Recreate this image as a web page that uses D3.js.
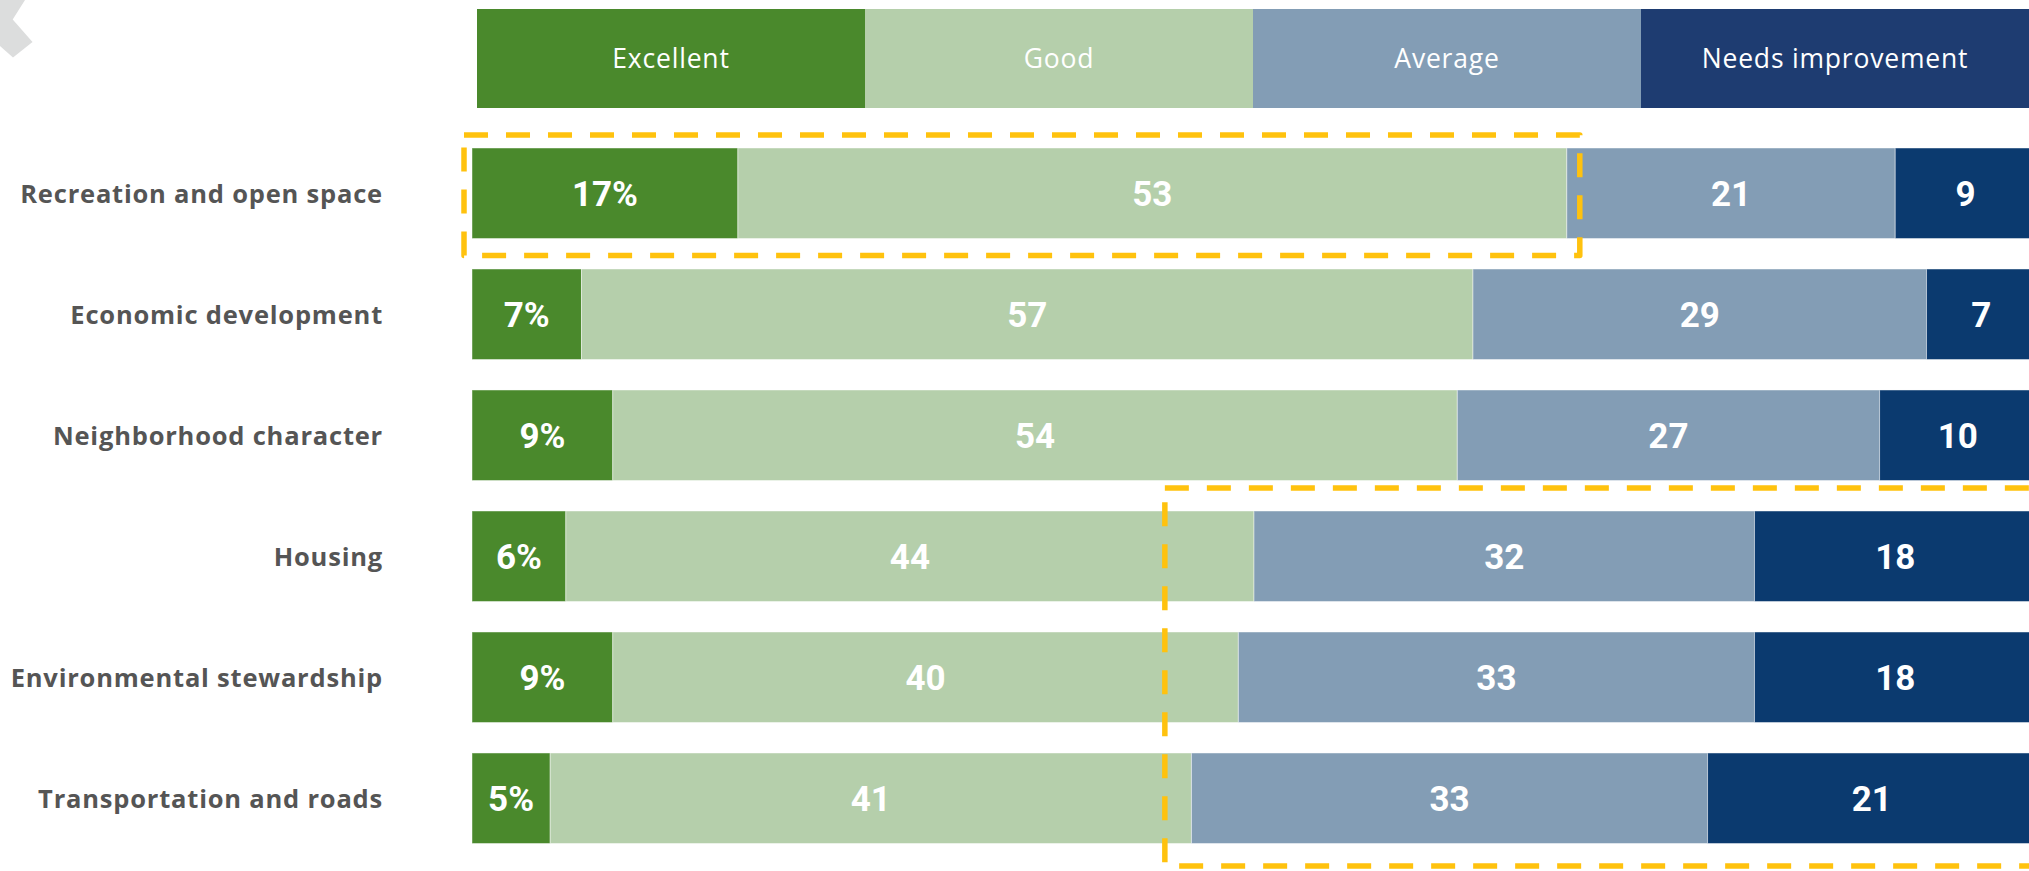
<!DOCTYPE html>
<html><head><meta charset="utf-8">
<script src="https://cdn.jsdelivr.net/npm/d3@7"></script>
<style>html,body{margin:0;padding:0;background:#fff;overflow:hidden}</style>
</head><body><svg id="chart" width="2029" height="871"></svg>
<script>
// ---- data ----
const categories = ["Recreation and open space","Economic development","Neighborhood character","Housing","Environmental stewardship","Transportation and roads"];
const seriesNames = ["Excellent","Good","Average","Needs improvement"];
const excellent = [17,7,9,6,9,5];
const good = [53,57,54,44,40,41];
const average = [21,29,27,32,33,33];
const needsImprovement = [9,7,10,18,18,21];
// highlighted regions (row range, value range on the 0-100 scale)
const highlights = [
  {firstRow:0, lastRow:0, from:0, to:70},
  {firstRow:3, lastRow:5, from:44.3, to:100}
];

// ---- style ----
const barColors = ["#4a892c","#b5cfab","#839db5","#0b3a6f"];
const legendColors = ["#4a892c","#b5cfab","#839db5","#1e3c71"];
const boxPads = [{l:8,r:13,t:13,b:17},{l:0,r:30,t:23,b:22.5}];

const svg = d3.select("#chart");
const rows = categories.map((c,i)=>({category:c, Excellent:excellent[i], Good:good[i], Average:average[i], "Needs improvement":needsImprovement[i]}));
const stack = d3.stack().keys(seriesNames)(rows);

const x = d3.scaleLinear().domain([0,100]).range([472, 2036]);
const y = d3.scaleBand().domain(categories).range([148, 843.5]).paddingInner(0.252).paddingOuter(0);
const xl = d3.scaleBand().domain(seriesNames).range([477, 2029]);
const color = d3.scaleOrdinal().domain(seriesNames).range(barColors);
const lcolor = d3.scaleOrdinal().domain(seriesNames).range(legendColors);

// decorative chevron top-left
svg.append("path").attr("d","M0,0 L25,0 L12.7,19.5 L32.5,42 L13,57.5 L0,46 Z").attr("fill","#dcdddd");

// legend
const lg = svg.append("g");
lg.selectAll("rect").data(seriesNames).join("rect")
  .attr("x", d=>xl(d)).attr("y",9).attr("width", xl.bandwidth()).attr("height",99)
  .attr("fill", d=>lcolor(d));
lg.selectAll("text").data(seriesNames).join("text")
  .attr("x", d=>xl(d)+xl.bandwidth()/2).attr("y", 58.5+9.5)
  .attr("text-anchor","middle").attr("fill","#fff")
  .style("font-family","'Open Sans', Roboto, sans-serif").style("font-size","26.5px").style("letter-spacing","0.8px")
  .text(d=>d);

// category labels
svg.append("g").selectAll("text").data(categories).join("text")
  .attr("x",383).attr("y", d=>y(d)+y.bandwidth()/2+10)
  .attr("text-anchor","end").attr("fill","#555555")
  .style("font-family","'Open Sans', Roboto, sans-serif").style("font-weight","700").style("font-size","25.5px").style("letter-spacing","0.8px")
  .text(d=>d);

// bars
const gs = svg.append("g").selectAll("g").data(stack).join("g").attr("fill", s=>color(s.key));
gs.selectAll("rect").data(s=>s.map(d=>({d, key:s.key}))).join("rect")
  .attr("x", o=>x(o.d[0])).attr("y", o=>y(o.d.data.category))
  .attr("width", o=>x(o.d[1])-x(o.d[0])).attr("height", y.bandwidth())
  .attr("stroke","rgba(255,255,255,0.45)").attr("stroke-width",1);

// value labels
const lab = svg.append("g");
stack.forEach((s,si)=>{
  lab.selectAll(null).data(s).join("text")
    .attr("x", d=>(x(d[0])+x(d[1]))/2).attr("y", d=>y(d.data.category)+y.bandwidth()/2+12.5)
    .attr("text-anchor","middle").attr("fill","#fff")
    .style("font-family","Roboto, 'Open Sans', sans-serif").style("font-weight","700").style("font-size","35px")
    .text(d=>(d[1]-d[0]) + (si===0?"%":""));
});

// highlight boxes
svg.append("g").selectAll("rect").data(highlights).join("rect")
  .attr("x",(h,i)=>x(h.from)-boxPads[i].l)
  .attr("y",(h,i)=>y(categories[h.firstRow])-boxPads[i].t)
  .attr("width",(h,i)=>x(h.to)+boxPads[i].r-(x(h.from)-boxPads[i].l))
  .attr("height",(h,i)=>y(categories[h.lastRow])+y.bandwidth()+boxPads[i].b-(y(categories[h.firstRow])-boxPads[i].t))
  .attr("fill","none").attr("stroke","#ffc20e").attr("stroke-width",5.5)
  .attr("stroke-dasharray","24 18").attr("stroke-linejoin","round");
</script></body></html>
